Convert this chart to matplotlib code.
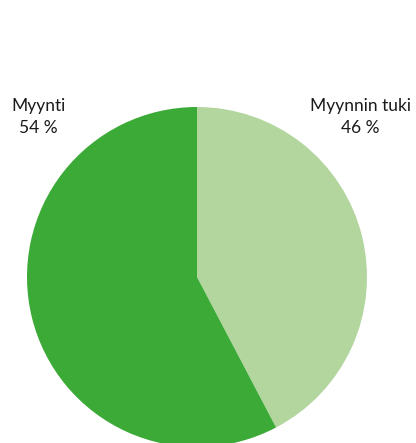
import matplotlib
matplotlib.use("Agg")
import matplotlib.pyplot as plt

# Slice shares as drawn in the picture (clockwise from 12 o'clock)
labels = ["Myynnin tuki", "Myynti"]
label_pcts = ["46 %", "54 %"]
shares = [42.3, 57.7]
colors = ["#b3d69f", "#3caa36"]

W, H = 416, 443
fig = plt.figure(figsize=(W / 100, H / 100), dpi=100)
ax = fig.add_axes([0, 0, 1, 1])
ax.set_xlim(0, W)
ax.set_ylim(0, H)
ax.set_aspect("equal")
ax.axis("off")

ax.pie(shares, colors=colors, startangle=90, counterclock=False,
       center=(197, H - 277), radius=170, frame=True,
       wedgeprops={"linewidth": 0})
ax.set_xlim(0, W)
ax.set_ylim(0, H)
ax.axis("off")

font = ["Lato", "DejaVu Sans"]
fs = 12.5
# right label (Myynnin tuki), left label (Myynti)
ax.text(360, H - 110.7, labels[0], ha="center", va="baseline", fontsize=fs, family=font, color="#1a1a1a")
ax.text(360, H - 133.3, label_pcts[0], ha="center", va="baseline", fontsize=fs, family=font, color="#1a1a1a")
ax.text(38.5, H - 110.7, labels[1], ha="center", va="baseline", fontsize=fs, family=font, color="#1a1a1a")
ax.text(38.5, H - 133.3, label_pcts[1], ha="center", va="baseline", fontsize=fs, family=font, color="#1a1a1a")

fig.savefig("out.png", dpi=100)
